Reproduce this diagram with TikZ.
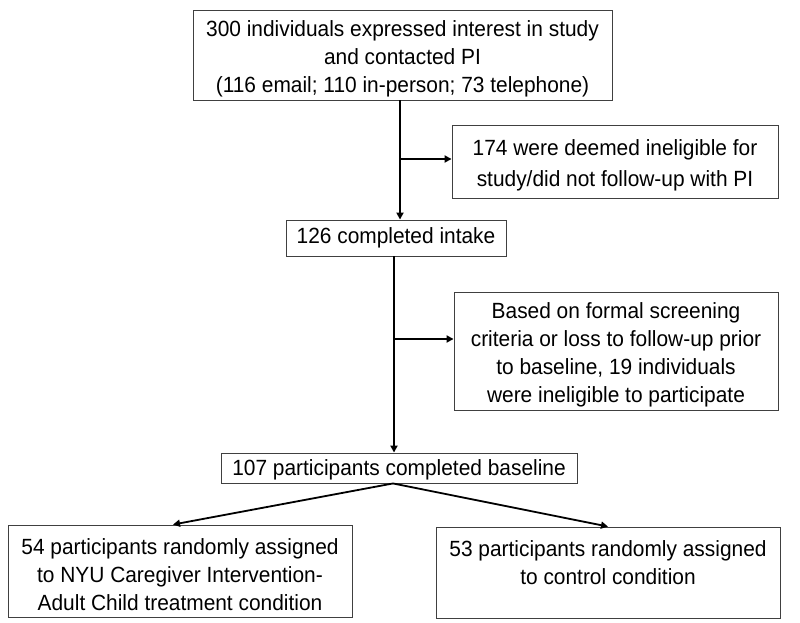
\documentclass[tikz,border=0pt]{standalone}
\usepackage{fontspec}
\setmainfont{Liberation Sans}[FakeStretch=0.95]
\usetikzlibrary{arrows.meta,calc}
\newcommand{\tstrut}{\rule{0pt}{23pt}}
\begin{document}
\begin{tikzpicture}[x=1pt,y=-1pt,
  box/.style={draw=black!75,line width=0.9pt,align=center,inner sep=0pt,
    font=\fontsize{22}{28}\selectfont},
  arr/.style={draw=black,line width=1.8pt,-{Triangle[length=7pt,width=7pt]}}]
\useasboundingbox[fill=white] (0,0) rectangle (800,623);
\node[box,minimum width=419,minimum height=90] (b1) at (402.5,55)
  {\tstrut300 individuals expressed interest in study\\and contacted PI\\(116 email; 110 in-person; 73 telephone)};
\node[box,minimum width=326,minimum height=73,font=\fontsize{22}{31}\selectfont] (b174) at (615,161.5)
  {\tstrut174 were deemed ineligible for\\study/did not follow-up with PI};
\node[box,minimum width=220,minimum height=36] (b2) at (396,238)
  {126 completed intake};
\node[box,minimum width=324,minimum height=118] (bb) at (616,351.5)
  {\tstrut Based on formal screening\\criteria or loss to follow-up prior\\to baseline, 19 individuals\\were ineligible to participate};
\node[box,minimum width=356,minimum height=30] (b3) at (399,468)
  {\rule{0pt}{20pt}107 participants completed baseline};
\node[box,minimum width=344,minimum height=92] (bl) at (180,571)
  {\tstrut54 participants randomly assigned\\to NYU Caregiver Intervention-\\Adult Child treatment condition};
\node[box,minimum width=344,minimum height=91] (br) at (608,572.5)
  {\tstrut53 participants randomly assigned\\to control condition\\ ~};
\coordinate (v1) at (400,0);
\coordinate (j1) at (400,159);
\coordinate (v2) at (394,0);
\coordinate (j2) at (394,339);
\draw[arr] (b1.south -| v1) -- (b2.north -| v1);
\draw[arr] (j1) -- (b174.west |- j1);
\draw[arr] (b2.south -| v2) -- (b3.north -| v2);
\draw[arr] (j2) -- (bb.west |- j2);
\coordinate (d0) at ($(b3.south)+(-6,0)$);
\draw[arr] (d0) -- ($(bl.north)+(-7,0)$);
\draw[arr] (d0) -- (br.north);
\end{tikzpicture}
\end{document}
